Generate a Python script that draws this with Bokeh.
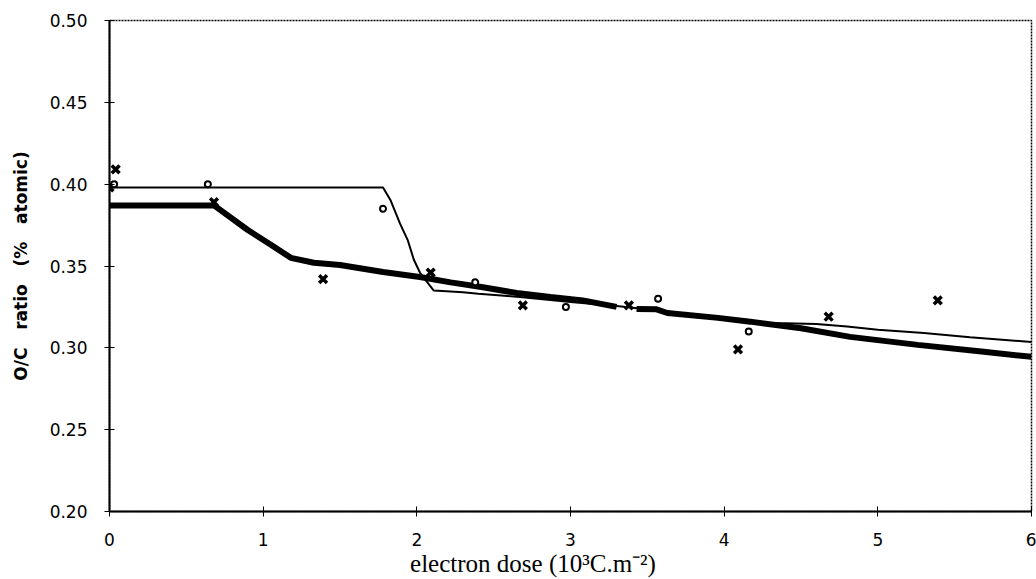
from bokeh.plotting import figure
from bokeh.models import Range1d, FixedTicker, CustomJSTickFormatter
from bokeh.embed import file_html
from bokeh.resources import INLINE

# Thin fitted line (circle series)
thin_x = [0.0, 1.78, 1.83, 1.89, 1.94, 1.98, 2.02, 2.06, 2.11, 2.3, 2.4, 2.55, 2.67,
          3.0, 3.3, 3.6, 3.9, 4.1, 4.25, 4.4, 4.6, 4.8, 5.0, 5.3, 5.6, 6.0]
thin_y = [0.398, 0.398, 0.390, 0.376, 0.366, 0.354, 0.346, 0.341, 0.335, 0.334, 0.333, 0.332, 0.331,
          0.328, 0.3255, 0.3225, 0.319, 0.317, 0.315, 0.315, 0.3145, 0.313, 0.311, 0.309, 0.3065, 0.3035]

# Thick fitted line (cross series)
thick_x = [0.0, 0.68, 0.9, 1.05, 1.18, 1.33, 1.5, 1.78, 2.02, 2.22, 2.43, 2.65, 2.87, 3.08, 3.30,
           float("nan"),
           3.43, 3.56, 3.63, 3.96, 4.17, 4.5, 4.82, 5.26, 5.69, 6.0]
thick_y = [0.387, 0.387, 0.372, 0.363, 0.355, 0.352, 0.3506, 0.3463, 0.3433, 0.340, 0.337, 0.3335, 0.331, 0.329, 0.325,
           float("nan"),
           0.3238, 0.3235, 0.3213, 0.3183, 0.316, 0.312, 0.3067, 0.3018, 0.2976, 0.2945]

# Measured points
cross_x = [0.0, 0.04, 0.68, 1.39, 2.09, 2.69, 3.38, 4.09, 4.68, 5.39]
cross_y = [0.398, 0.409, 0.389, 0.342, 0.346, 0.326, 0.326, 0.299, 0.319, 0.329]
circ_x = [0.03, 0.64, 1.78, 2.38, 2.97, 3.57, 4.16]
circ_y = [0.400, 0.400, 0.385, 0.340, 0.325, 0.330, 0.310]

x_ticks = [0, 1, 2, 3, 4, 5, 6]
y_ticks = [0.20, 0.25, 0.30, 0.35, 0.40, 0.45, 0.50]

NB = "\u00a0"
x_title = "electron dose (10\u00b3C.m\u207b\u00b2)" + NB * 12
y_title = (NB * 3).join(["O/C", "ratio", "(%", "atomic)"])

p = figure(width=1036, height=579, output_backend="svg", toolbar_location=None,
           x_range=Range1d(0, 6), y_range=Range1d(0.20, 0.50),
           min_border_left=109, min_border_right=5, min_border_top=20, min_border_bottom=66)
p.background_fill_color = "white"
p.border_fill_color = "white"
p.grid.visible = False
p.outline_line_color = "black"
p.outline_line_width = 1.5
p.outline_line_dash = "2 1"

p.line(thick_x, thick_y, line_color="black", line_width=6)
p.line(thin_x, thin_y, line_color="black", line_width=2)
p.scatter(cross_x, cross_y, marker="x", size=11, line_color="black", line_width=3.5)
p.scatter(circ_x, circ_y, marker="circle", size=6, line_color="black", line_width=2, fill_color="white")

p.xaxis.ticker = FixedTicker(ticks=x_ticks)
p.yaxis.ticker = FixedTicker(ticks=y_ticks)
p.yaxis.formatter = CustomJSTickFormatter(code="return tick.toFixed(2);")

for ax in (p.xaxis[0], p.yaxis[0]):
    ax.axis_line_color = "black"
    ax.axis_line_width = 2
    ax.major_tick_in = 5
    ax.major_tick_out = 5
    ax.major_tick_line_color = "black"
    ax.minor_tick_line_color = None
    ax.major_label_text_font = "DejaVu Sans"
    ax.major_label_text_font_size = "17px"
    ax.major_label_text_color = "black"
    ax.axis_label_text_color = "black"

p.xaxis.major_label_standoff = 16
p.yaxis.major_label_standoff = 17

p.xaxis.axis_label = x_title
p.xaxis.axis_label_text_font = "Liberation Serif"
p.xaxis.axis_label_text_font_style = "normal"
p.xaxis.axis_label_text_font_size = "25px"
p.xaxis.axis_label_standoff = 1

p.yaxis.axis_label = y_title
p.yaxis.axis_label_text_font = "DejaVu Sans"
p.yaxis.axis_label_text_font_style = "bold"
p.yaxis.axis_label_text_font_size = "17px"
p.yaxis.axis_label_standoff = 16

open("out.html", "w").write(file_html(p, INLINE))
